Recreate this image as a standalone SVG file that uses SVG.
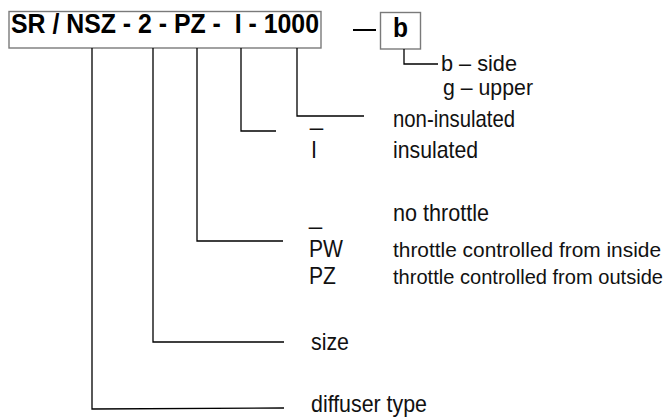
<svg xmlns="http://www.w3.org/2000/svg" width="669" height="418" viewBox="0 0 669 418">
<style>
.box{fill:#fff;stroke:#7a7a7a;stroke-width:1.4}
.ln{fill:none;stroke:#000;stroke-width:1.3}
.t{font-family:"Liberation Sans",Arial,sans-serif;font-size:24px;fill:#111}
.s{font-size:22px}
.w{font-size:20px}
.b{font-family:"Liberation Sans",Arial,sans-serif;font-weight:bold;font-size:27px;fill:#000}
</style>
<rect width="669" height="418" fill="#fff"/>
<g id="code">
<rect class="box" x="9" y="11.5" width="312" height="36.5"/>
<text class="b" x="11" y="33" textLength="308" lengthAdjust="spacingAndGlyphs" xml:space="preserve">SR / NSZ - 2 - PZ -  I - 1000</text>
</g>
<g id="bbox">
<rect class="box" x="380.5" y="12.5" width="40" height="36.5"/>
<text class="b" x="400.5" y="37" text-anchor="middle" textLength="15" lengthAdjust="spacingAndGlyphs">b</text>
</g>
<g id="connectors">
<line x1="353" y1="30" x2="376" y2="30" stroke="#000" stroke-width="2"/>
<polyline class="ln" points="404,49 404,64 438,64"/>
<polyline class="ln" points="297,48 297,116 364,116"/>
<polyline class="ln" points="241,48 241,131 276,131"/>
<polyline class="ln" points="197,48 197,241 283,241"/>
<polyline class="ln" points="153,48 153,342 284,342"/>
<polyline class="ln" points="92,48 92,409 284,408"/>
</g>
<g id="side">
<text class="t s" x="441" y="71" textLength="76" lengthAdjust="spacingAndGlyphs">b – side</text>
<text class="t s" x="443" y="95" textLength="90" lengthAdjust="spacingAndGlyphs">g – upper</text>
</g>
<g id="insulation">
<text class="t" x="393" y="127" textLength="122" lengthAdjust="spacingAndGlyphs">non-insulated</text>
<text class="t" x="310" y="125" textLength="13" lengthAdjust="spacingAndGlyphs">_</text>
<text class="t" x="311" y="158" textLength="6" lengthAdjust="spacingAndGlyphs">I</text>
<text class="t" x="393" y="158" textLength="85" lengthAdjust="spacingAndGlyphs">insulated</text>
</g>
<g id="throttle">
<text class="t" x="309" y="224" textLength="13" lengthAdjust="spacingAndGlyphs">_</text>
<text class="t" x="393" y="221" textLength="96" lengthAdjust="spacingAndGlyphs">no throttle</text>
<text class="t" x="309" y="257" textLength="34" lengthAdjust="spacingAndGlyphs">PW</text>
<text class="t w" x="393" y="257" textLength="268" lengthAdjust="spacingAndGlyphs">throttle controlled from inside</text>
<text class="t" x="309" y="284" textLength="27" lengthAdjust="spacingAndGlyphs">PZ</text>
<text class="t w" x="393" y="284" textLength="270" lengthAdjust="spacingAndGlyphs">throttle controlled from outside</text>
</g>
<g id="size">
<text class="t" x="311" y="350" textLength="38" lengthAdjust="spacingAndGlyphs">size</text>
</g>
<g id="type">
<text class="t" x="311" y="412" textLength="116" lengthAdjust="spacingAndGlyphs">diffuser type</text>
</g>
</svg>
